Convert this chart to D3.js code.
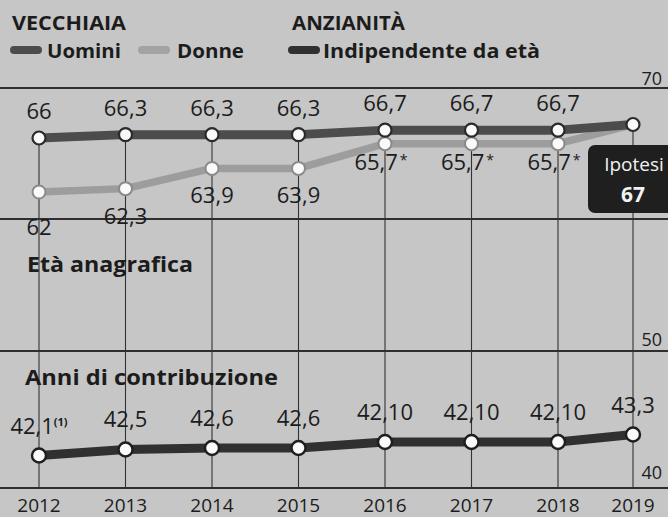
<!DOCTYPE html>
<html><head><meta charset="utf-8">
<script src="https://cdn.jsdelivr.net/npm/d3@7"></script>
<style>
html,body{margin:0;padding:0;background:#c6c6c6;}
svg{display:block;}
text{font-family:"Open Sans",sans-serif;fill:#1c1c1c;}
</style></head><body>
<svg id="c" width="668" height="517"></svg>
<script>
// ---- data (età in anni+mesi, es. "66,3" = 66 anni e 3 mesi) ----
const years = [2012, 2013, 2014, 2015, 2016, 2017, 2018, 2019];
const uominiLabels  = ["66", "66,3", "66,3", "66,3", "66,7", "66,7", "66,7", "67"];
const donneLabels   = ["62", "62,3", "63,9", "63,9", "65,7", "65,7", "65,7", "67"];
const contribLabels = ["42,1", "42,5", "42,6", "42,6", "42,10", "42,10", "42,10", "43,3"];
const uomini  = [66, 66.25, 66.25, 66.25, 66.583, 66.583, 66.583, 67];
const donne   = [62, 62.25, 63.75, 63.75, 65.583, 65.583, 65.583, 67];
const contrib = [42.083, 42.417, 42.5, 42.5, 42.833, 42.833, 42.833, 43.25];
const topTickLabels = ["70"];
const botTickLabels = ["50", "40"];

const svg = d3.select("#c");
const W = 668, H = 517;

// scales
const x = d3.scaleLinear().domain([2012, 2018, 2019]).range([39, 558, 633]);
const yTop = d3.scaleLinear().domain([60, 70]).range([219, 84]);
const yBot = d3.scaleLinear().domain([40, 48]).range([493, 349]);

// panel frame lines
const frames = [88, 219, 351, 488];
svg.selectAll("line.frame").data(frames).enter().append("line")
  .attr("x1", 0).attr("x2", W).attr("y1", d => d).attr("y2", d => d)
  .attr("stroke", "#2e2e2e").attr("stroke-width", 2);

// vertical guide lines
svg.selectAll("line.v").data(years).enter().append("line")
  .attr("x1", d => x(d)).attr("x2", d => x(d))
  .attr("y1", (d, i) => yTop(uomini[i])).attr("y2", 488)
  .attr("stroke", "#333").attr("stroke-width", 1.1);

// tick labels
svg.append("text").attr("x", 662).attr("y", 85).attr("text-anchor", "end")
  .attr("font-size", 18).text(topTickLabels[0]);
svg.selectAll("text.bt").data(botTickLabels).enter().append("text")
  .attr("x", 662).attr("y", (d, i) => i === 0 ? 346 : 479).attr("text-anchor", "end")
  .attr("font-size", 18).text(d => d);

// section titles
svg.append("text").attr("x", 27).attr("y", 272).attr("font-size", 21).attr("font-weight", 700)
  .attr("textLength", 166).attr("lengthAdjust", "spacingAndGlyphs").text("Età anagrafica");
svg.append("text").attr("x", 25).attr("y", 385).attr("font-size", 22).attr("font-weight", 700)
  .attr("textLength", 253).attr("lengthAdjust", "spacingAndGlyphs").text("Anni di contribuzione");

// lines
const lineTop = d3.line().x((d, i) => x(years[i])).y(d => yTop(d));
const lineBot = d3.line().x((d, i) => x(years[i])).y(d => yBot(d));

svg.append("path").datum(donne).attr("d", lineTop).attr("fill", "none")
  .attr("stroke", "#9d9d9d").attr("stroke-width", 7.5).attr("stroke-linejoin", "round");
svg.append("path").datum(uomini).attr("d", lineTop).attr("fill", "none")
  .attr("stroke", "#4c4c4c").attr("stroke-width", 9).attr("stroke-linejoin", "round");
svg.append("path").datum(contrib).attr("d", lineBot).attr("fill", "none")
  .attr("stroke", "#303030").attr("stroke-width", 9).attr("stroke-linejoin", "round");

// points
svg.selectAll("circle.d").data(donne.slice(0, 7)).enter().append("circle")
  .attr("cx", (d, i) => x(years[i])).attr("cy", d => yTop(d)).attr("r", 6.5)
  .attr("fill", "#fafafa").attr("stroke", "#8a8a8a").attr("stroke-width", 2);
svg.selectAll("circle.u").data(uomini).enter().append("circle")
  .attr("cx", (d, i) => x(years[i])).attr("cy", d => yTop(d)).attr("r", 6.5)
  .attr("fill", "#fafafa").attr("stroke", "#2a2a2a").attr("stroke-width", 2.2);
svg.selectAll("circle.c").data(contrib).enter().append("circle")
  .attr("cx", (d, i) => x(years[i])).attr("cy", d => yBot(d)).attr("r", 7)
  .attr("fill", "#fafafa").attr("stroke", "#1e1e1e").attr("stroke-width", 2.4);

// value labels
svg.selectAll("text.ul").data(uominiLabels.slice(0, 7)).enter().append("text")
  .attr("x", (d, i) => x(years[i])).attr("y", (d, i) => yTop(uomini[i]) - 19)
  .attr("text-anchor", "middle").attr("font-size", 22).text(d => d);

const donneDy = i => (i === 0 ? 43 : i < 4 ? 35 : 26);
const dl = svg.selectAll("text.dl").data(donneLabels.slice(0, 7)).enter().append("text")
  .attr("x", (d, i) => x(years[i]) - (i >= 4 ? 4 : 0)).attr("y", (d, i) => yTop(donne[i]) + donneDy(i))
  .attr("text-anchor", "middle").attr("font-size", 22);
dl.append("tspan").text(d => d);
dl.filter((d, i) => i >= 4).append("tspan").attr("font-size", 14).attr("dx", 2).attr("dy", -5).text("*");

const cl = svg.selectAll("text.cl").data(contribLabels).enter().append("text")
  .attr("x", (d, i) => x(years[i])).attr("y", (d, i) => yBot(contrib[i]) - 22)
  .attr("text-anchor", "middle").attr("font-size", 22);
cl.append("tspan").text(d => d);
cl.filter((d, i) => i === 0).append("tspan").attr("font-size", 11).attr("font-weight", 700)
  .attr("dy", -8).text("(1)");

// Ipotesi box
const hx = x(2019);
svg.append("rect").attr("x", hx - 45).attr("y", 145).attr("width", 92).attr("height", 68)
  .attr("rx", 7).attr("fill", "#1f1f1f");
svg.append("text").attr("x", hx + 1).attr("y", 171).attr("text-anchor", "middle")
  .attr("font-size", 19).style("fill", "#f2f2f2").text("Ipotesi");
svg.append("text").attr("x", hx).attr("y", 202).attr("text-anchor", "middle")
  .attr("font-size", 21).attr("font-weight", 700).style("fill", "#f2f2f2").text(uominiLabels[7]);

// year axis labels
svg.selectAll("text.yr").data(years).enter().append("text")
  .attr("x", d => x(d)).attr("y", 512).attr("text-anchor", "middle")
  .attr("font-size", 19).text(d => d);

// header & legend
const head = [
  {t: "VECCHIAIA", x: 12, w: 114},
  {t: "ANZIANITÀ", x: 292, w: 113}
];
svg.selectAll("text.h").data(head).enter().append("text")
  .attr("x", d => d.x).attr("y", 30).attr("font-size", 20).attr("font-weight", 700)
  .attr("textLength", d => d.w).attr("lengthAdjust", "spacingAndGlyphs").text(d => d.t);

const legend = [
  {t: "Uomini", c: "#4c4c4c", sx: 10, tx: 47, w: 74},
  {t: "Donne", c: "#a3a3a3", sx: 138, tx: 177, w: 67},
  {t: "Indipendente da età", c: "#303030", sx: 288, tx: 323, w: 217}
];
const lg = svg.selectAll("g.lg").data(legend).enter().append("g");
lg.append("line").attr("x1", d => d.sx + 4).attr("x2", d => d.sx + 28)
  .attr("y1", 50).attr("y2", 50).attr("stroke", d => d.c).attr("stroke-width", 8)
  .attr("stroke-linecap", "round");
lg.append("text").attr("x", d => d.tx).attr("y", 58).attr("font-size", 20).attr("font-weight", 700)
  .attr("textLength", d => d.w).attr("lengthAdjust", "spacingAndGlyphs").text(d => d.t);
</script>
</body></html>
